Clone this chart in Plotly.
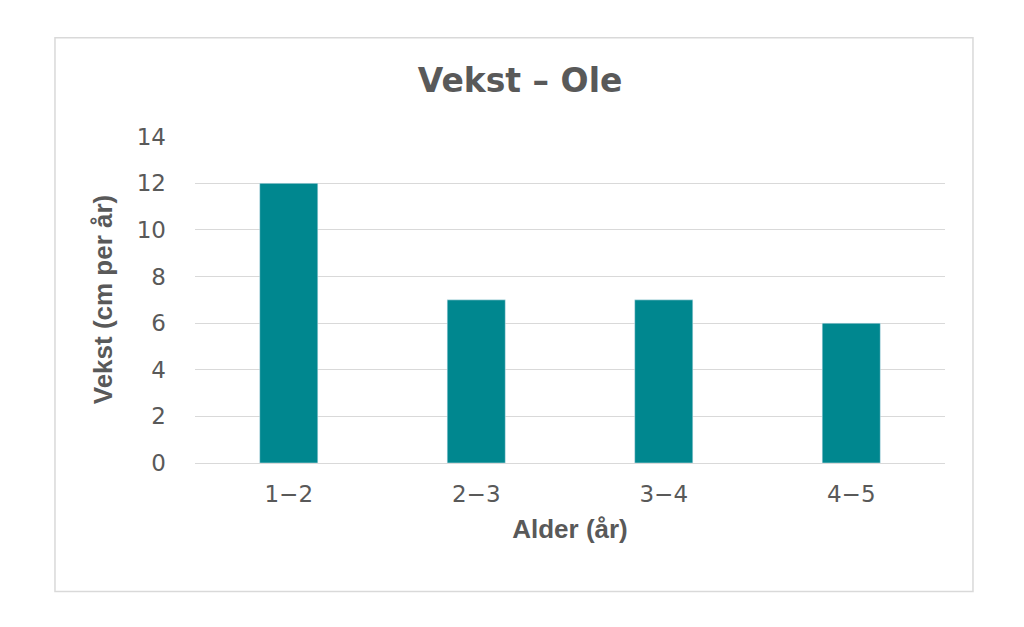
import plotly.graph_objects as go

categories = ["1−2", "2−3", "3−4", "4−5"]
values = [12, 7, 7, 6]
y_ticks = [0, 2, 4, 6, 8, 10, 12, 14]

fig = go.Figure(go.Bar(x=categories, y=values, marker_color="#00878F", width=0.31))
fig.update_layout(
    width=1024, height=627,
    margin=dict(l=187, r=87, t=128, b=172),
    paper_bgcolor="white", plot_bgcolor="white",
    title=dict(text="<b>Vekst – Ole</b>", x=0.5, xanchor="center", y=0.885, yanchor="middle",
               font=dict(family="DejaVu Sans", size=33, color="#595959")),
    showlegend=False,
    font=dict(family="DejaVu Sans", color="#595959"),
)
fig.update_xaxes(title=dict(text="<b>Alder (år)</b>", font=dict(family="Liberation Sans Narrow, Liberation Sans", size=26, color="#595959"), standoff=14),
                 tickfont=dict(size=23, color="#595959"), showline=True, linecolor="#d9d9d9", ticks="",
                 ticklabelstandoff=10)
fig.update_yaxes(title=dict(text="<b>Vekst (cm per år)</b>", font=dict(family="Liberation Sans Narrow, Liberation Sans", size=26, color="#595959"), standoff=16),
                 range=[0, 14.03], tickvals=y_ticks, tickfont=dict(size=23, color="#595959"),
                 showgrid=True, gridcolor="#d9d9d9", zeroline=False, ticks="", ticklabelstandoff=28)
fig.add_shape(type="rect", xref="paper", yref="paper", x0=-0.1867, x1=1.0373, y0=-0.3926, y1=1.3006,
              line=dict(color="#d9d9d9", width=1.5))
fig.write_html("out.html")
